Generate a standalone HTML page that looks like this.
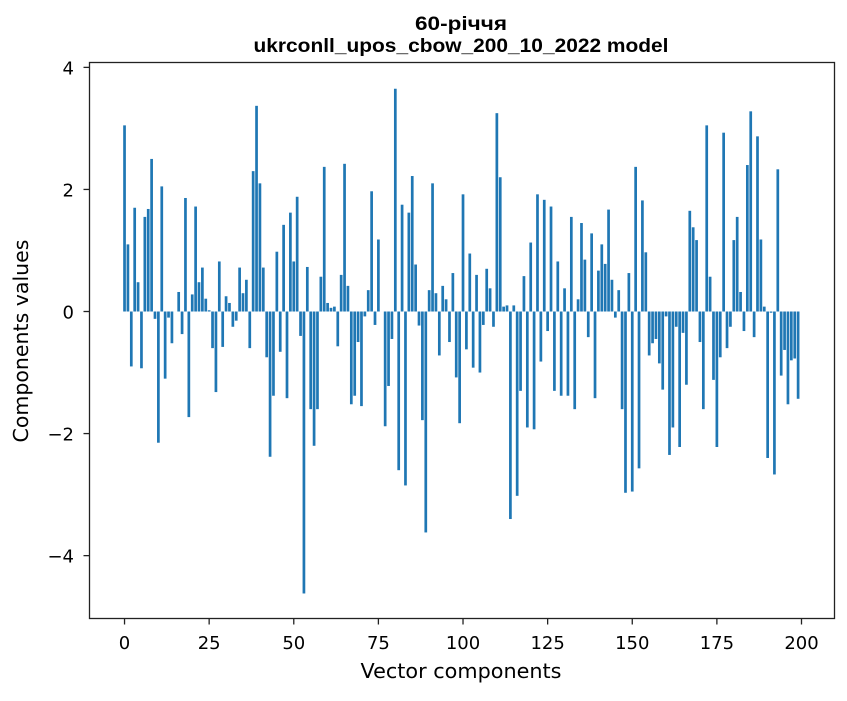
<!DOCTYPE html>
<html><head><meta charset="utf-8"><style>
body{margin:0;background:#fff;}
svg text{font-family:"DejaVu Sans","Liberation Sans",sans-serif;fill:#000;}
</style></head><body>
<svg id="chart" width="847" height="696" xmlns="http://www.w3.org/2000/svg">
<rect width="847" height="696" fill="#fff"/>
<text x="461" y="30" text-anchor="middle" font-size="19" font-weight="bold" style="font-family:'Liberation Sans',sans-serif" textLength="92" lengthAdjust="spacingAndGlyphs">60-річчя</text>
<text x="461" y="52" text-anchor="middle" font-size="19" font-weight="bold" style="font-family:'Liberation Sans',sans-serif" textLength="415" lengthAdjust="spacingAndGlyphs">ukrconll_upos_cbow_200_10_2022 model</text>
<g id="bars"></g>
<g id="xticks"></g>
<g id="yticks"></g>
<rect x="89.5" y="62.5" width="745" height="556" fill="none" stroke="#222" stroke-width="1.3"/>
<text x="461" y="678" text-anchor="middle" font-size="20" textLength="201" lengthAdjust="spacingAndGlyphs">Vector components</text>
<text transform="translate(28,341) rotate(-90)" text-anchor="middle" font-size="20" textLength="203" lengthAdjust="spacingAndGlyphs">Components values</text>
</svg>
<script>
const values = [3.05,1.1,-0.9,1.7,0.48,-0.93,1.55,1.68,2.5,-0.12,-2.15,2.05,-1.1,-0.1,-0.52,0,0.32,-0.37,1.86,-1.73,
0.28,1.72,0.48,0.72,0.21,0.02,-0.6,-1.32,0.82,-0.58,0.25,0.14,-0.25,-0.15,0.72,0.3,0.52,-0.6,2.3,3.37,
2.1,0.72,-0.75,-2.38,-1.38,0.98,-0.66,1.42,-1.42,1.62,0.82,1.88,-0.4,-4.62,0.73,-1.6,-2.2,-1.6,0.57,2.37,
0.14,0.06,0.08,-0.57,0.6,2.42,0.42,-1.52,-1.38,-0.5,-1.55,-0.08,0.35,1.97,-0.22,1.18,0,-1.88,-1.22,-0.45,
3.65,-2.6,1.75,-2.85,1.62,2.22,0.77,-0.23,-1.78,-3.62,0.35,2.1,0.3,-0.72,0.42,0.2,-0.5,0.63,-1.08,-1.83,
1.92,-0.62,0.95,-0.92,0.6,-1,-0.22,0.7,0.38,-0.25,3.25,2.2,0.08,0.1,-3.4,0.1,-3.02,-1.3,0.58,-1.9,
1.13,-1.93,1.92,-0.82,1.83,-0.32,1.72,-1.3,0.82,-1.38,0.38,-1.38,1.55,-1.6,0.2,1.45,0.85,-0.42,1.28,-1.42,
0.67,1.1,0.78,1.67,0.52,-0.1,0.35,-1.6,-2.97,0.63,-2.95,2.37,-2.57,1.82,0.97,-0.72,-0.52,-0.45,-0.85,-1.28,
-0.08,-2.35,-1.9,-0.25,-2.22,-0.35,-1.2,1.65,1.38,1.17,-0.5,-1.6,3.05,0.57,-1.12,-2.22,-0.75,2.93,-0.6,-0.25,
1.17,1.55,0.32,-0.32,2.4,3.28,-0.42,2.87,1.18,0.08,-2.4,-0.02,-2.67,2.33,-1.05,-0.63,-1.52,-0.8,-0.77,-1.43];
const xTickLabels = [0,25,50,75,100,125,150,175,200];
const yTickLabels = [-4,-2,0,2,4];
const NS="http://www.w3.org/2000/svg";
const X0=89.5,X1=834.5,Y0=62.5,Y1=618.5;
const xMin=-10.35,xMax=209.75,yMin=-5.03,yMax=4.08;
function xs(v){return X0+(v-xMin)/(xMax-xMin)*(X1-X0);}
function ys(v){return Y1-(v-yMin)/(yMax-yMin)*(Y1-Y0);}
const bars=document.getElementById('bars');
values.forEach((v,i)=>{
  const r=document.createElementNS(NS,'rect');
  const x=xs(i-0.4), w=xs(i+0.4)-x;
  const y=Math.min(ys(v),ys(0)), h=Math.abs(ys(v)-ys(0));
  r.setAttribute('x',x);r.setAttribute('y',y);r.setAttribute('width',w);r.setAttribute('height',Math.max(h,0.01));
  r.setAttribute('fill','#1f77b4');
  
  
  bars.appendChild(r);
});
const xt=document.getElementById('xticks');
xTickLabels.forEach(t=>{
  const l=document.createElementNS(NS,'line');
  l.setAttribute('x1',xs(t));l.setAttribute('x2',xs(t));l.setAttribute('y1',Y1);l.setAttribute('y2',Y1+6);l.setAttribute('stroke','#222');l.setAttribute('stroke-width','1.3');
  
  
  xt.appendChild(l);
  const s=document.createElementNS(NS,'text');
  s.setAttribute('x',xs(t));s.setAttribute('y',649);s.setAttribute('text-anchor','middle');s.setAttribute('font-size','18');
  s.textContent=t;
  
  
  xt.appendChild(s);
});
const yt=document.getElementById('yticks');
yTickLabels.forEach(t=>{
  const l=document.createElementNS(NS,'line');
  l.setAttribute('x1',X0-6);l.setAttribute('x2',X0);l.setAttribute('y1',ys(t));l.setAttribute('y2',ys(t));l.setAttribute('stroke','#222');l.setAttribute('stroke-width','1.3');
  
  
  yt.appendChild(l);
  const s=document.createElementNS(NS,'text');
  s.setAttribute('x',74);s.setAttribute('y',ys(t)+7);s.setAttribute('text-anchor','end');s.setAttribute('font-size','18');
  s.textContent=t<0?'\u2212'+Math.abs(t):String(t);
  
  
  yt.appendChild(s);
});
</script>
</body></html>
